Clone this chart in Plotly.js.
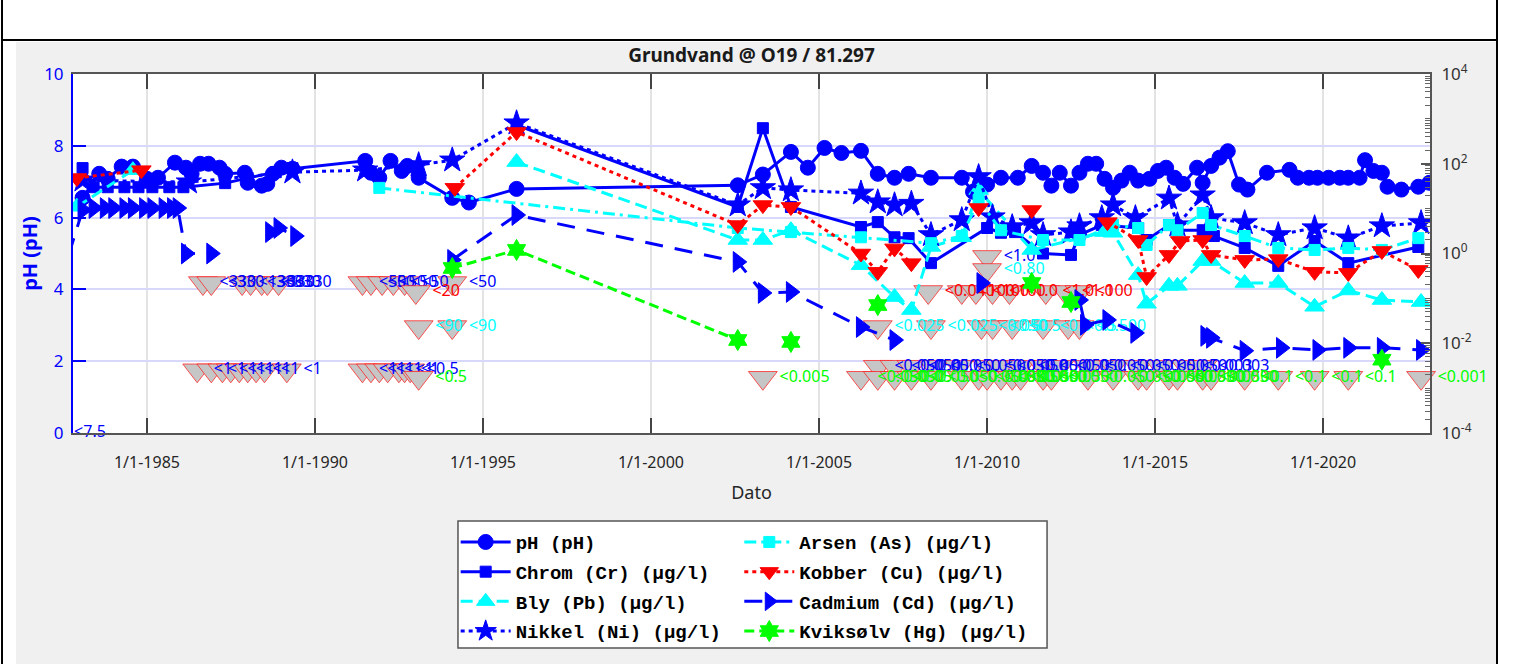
<!DOCTYPE html>
<html><head><meta charset="utf-8">
<script src="https://cdn.plot.ly/plotly-3.0.1.min.js"></script>
<style>
html,body{margin:0;padding:0;background:#fff;width:1516px;height:664px;overflow:hidden;}
#lb{position:absolute;left:1px;top:0;width:2px;height:664px;background:#000;}
#rb{position:absolute;left:1496px;top:0;width:2px;height:664px;background:#000;}
#tb{position:absolute;left:1px;top:39px;width:1497px;height:2px;background:#000;}
#chart{position:absolute;left:16px;top:42px;width:1480px;height:622px;}
</style></head><body>
<div id="lb"></div><div id="rb"></div><div id="tb"></div>
<div id="chart"></div>
<script>
// ---------------- data ----------------
const xTickVals = ['1985-01-01','1990-01-01','1995-01-01','2000-01-01','2005-01-01','2010-01-01','2015-01-01','2020-01-01'];
const xTickText = ['1/1-1985','1/1-1990','1/1-1995','1/1-2000','1/1-2005','1/1-2010','1/1-2015','1/1-2020'];

const phDates = ['1983-02','1983-08','1983-11','1984-04','1984-08','1985-01','1985-05','1985-11','1986-03','1986-05','1986-08','1986-11','1987-03','1987-05','1987-12','1988-01','1988-06','1988-08','1988-10','1989-01','1989-05','1991-07','1991-09','1991-12','1992-04','1992-08','1992-10','1993-02','1994-02','1994-08','1996-01','2002-08','2003-05','2004-03','2004-09','2005-03','2005-09','2006-04','2006-10','2007-04','2007-09','2008-05','2009-04','2009-08','2010-01','2010-06','2010-12','2011-05','2011-09','2011-12','2012-03','2012-07','2012-10','2013-01','2013-04','2013-07','2013-10','2014-01','2014-04','2014-07','2014-11','2015-02','2015-05','2015-08','2015-11','2016-04','2016-06','2016-09','2016-12','2017-03','2017-07','2017-10','2018-05','2019-01','2019-04','2019-08','2019-11','2020-03','2020-07','2020-10','2021-02','2021-04','2021-07','2021-10','2021-12','2022-05','2022-11','2023-03'];
const phValues = [6.55,7.22,7.08,7.42,7.42,7.08,7.11,7.53,7.39,7.22,7.5,7.5,7.39,7.22,7.25,6.97,6.89,6.94,7.22,7.39,7.36,7.58,7.25,7.11,7.58,7.3,7.44,7.11,6.55,6.42,6.8,6.9,7.2,7.83,7.39,7.94,7.8,7.86,7.22,7.11,7.22,7.11,7.11,6.72,6.92,7.11,7.11,7.44,7.25,6.89,7.25,6.89,7.25,7.5,7.5,7.08,6.83,7.03,7.25,7.03,7.08,7.3,7.39,7.11,6.94,7.39,6.97,7.44,7.67,7.85,6.92,6.78,7.25,7.33,7.11,7.11,7.11,7.11,7.11,7.11,7.11,7.6,7.3,7.25,6.86,6.78,6.86,6.97];

const crDates = ['1983-02','1983-06','1983-11','1984-05','1984-10','1985-03','1985-09','1986-02','1987-05','1988-01','1988-11','1989-05','1992-06','1996-01','2002-08','2003-05','2004-03','2006-04','2006-10','2007-04','2007-09','2008-05','2010-01','2010-06','2010-11','2011-09','2012-07','2012-10','2013-06','2014-07','2014-10','2015-06','2015-09','2016-06','2016-10','2017-09','2018-09','2019-10','2020-10','2022-11'];
const crValues = [80,30,30,30,30,30,30,30,37,48,65,80,null,730,10.9,620,10.9,3.9,5.0,2.3,2.2,0.61,3.7,2.9,3.0,1.0,0.93,2.6,4.3,3.7,2.0,4.3,3.3,3.3,2.45,1.33,0.53,1.9,0.61,1.4];

const pbDates = ['1982-12','1984-08','1990-01','1996-01','2002-08','2003-05','2004-03','2006-04','2007-04','2007-10','2008-05','2009-04','2009-10','2011-05','2013-07','2013-10','2014-07','2014-10','2015-06','2015-09','2016-06','2016-09','2017-09','2018-09','2019-10','2020-10','2021-10','2022-12'];
const pbValues = [11,72,null,109,2.0,2.0,3.3,0.55,0.107,0.055,1.4,2.3,26,1.2,3.0,2.9,0.33,0.076,0.19,0.19,0.68,0.68,0.22,0.22,0.065,0.15,0.092,0.083];

const niDates = ['1983-02','1986-04','1989-05','1991-07','1993-02','1994-02','1996-01','2002-08','2003-05','2004-03','2006-04','2006-10','2007-04','2007-10','2008-05','2009-04','2009-10','2010-03','2010-10','2011-05','2011-09','2012-07','2012-10','2013-06','2013-10','2014-06','2015-06','2015-09','2016-06','2016-09','2017-09','2018-09','2019-10','2020-10','2021-10','2022-12'];
const niValues = [43,39,65,72,94,120,806,12,29,26,22,14,12,13,2.6,5.6,51,6.5,3.9,4.8,2.6,3.0,4.1,6.2,12,6.2,17,4.3,20,6.2,4.8,2.6,3.7,2.2,4.1,4.8];

const asDates = ['1991-12','2002-08','2004-03','2006-04','2008-05','2009-04','2009-10','2010-06','2011-09','2012-10','2013-10','2014-07','2014-10','2015-06','2015-09','2016-06','2016-09','2017-09','2018-09','2019-10','2020-10','2021-10','2022-11'];
const asValues = [29,3.7,3.0,2.3,1.7,2.45,15.5,3.3,2.0,2.0,4.3,3.7,1.55,4.3,3.3,8.0,4.3,2.45,1.33,1.2,1.33,1.2,2.2];

const cuDates = ['1982-12','1984-11','1990-01','1994-03','1996-01','2002-08','2003-05','2004-03','2006-04','2006-10','2007-04','2007-10','2008-12','2009-10','2010-08','2011-05','2012-06','2013-08','2014-07','2014-10','2015-06','2015-10','2016-06','2016-09','2017-09','2018-09','2019-10','2020-10','2021-10','2022-11'];
const cuValues = [48,72,null,29,510,4.3,12,10.9,1.0,0.39,1.3,0.61,null,10.3,null,9.3,null,5.0,2.0,0.30,0.93,1.9,2.0,0.93,0.72,0.75,0.39,0.37,1.14,0.43];

const cdDates = ['1982-09','1983-02','1983-06','1983-10','1984-01','1984-05','1984-08','1984-12','1985-03','1985-07','1985-10','1985-12','1986-03','1986-12','1987-10','1988-09','1988-12','1989-06','1992-01','1994-02','1996-01','2002-08','2003-05','2004-03','2006-04','2007-04','2008-06','2009-11','2011-06','2012-10','2012-12','2013-08','2014-06','2015-08','2016-07','2016-09','2017-09','2018-10','2019-11','2020-10','2021-10','2022-12'];
const cdValues = [0.9,9.3,10.3,10.3,10.3,10.3,10.3,10.3,10.3,10.3,10.3,10.3,1.0,1.0,null,3.0,3.7,2.45,null,0.72,7.2,0.65,0.132,0.139,0.023,0.0118,null,0.22,null,0.092,0.0257,0.033,0.017,null,0.0146,0.0132,0.0068,0.0079,0.0071,0.0079,0.0079,0.0071];

const hgDates = ['1994-02','1996-01','2002-08','2003-06','2004-03','2005-06','2006-10','2009-01','2011-05','2011-12','2012-07','2017-01','2021-10'];
const hgValues = [0.475,1.2,0.0118,null,0.0107,null,0.071,null,0.22,null,0.083,null,0.0043];

// below-detection results (label = reported value), grouped by label colour
const bdlBlueDates = ['1986-09','1986-12','1987-11','1988-02','1988-06','1988-08','1988-12','1991-06','1991-09','1992-01','1992-05','1992-09','1994-02','1986-07','1986-12','1987-04','1987-07','1987-10','1988-01','1988-04','1988-07','1989-03','1991-06','1991-09','1991-12','1992-03','1992-07','1992-09','1992-11','2010-01','2006-10','2007-04','2007-10','2008-06','2009-03','2010-01','2010-06','2011-01','2011-09','2012-03','2013-01','2013-10','2014-07','2015-03','2015-12','2016-06'];
const bdlBlueValues = [0.22,0.22,0.22,0.22,0.22,0.22,0.22,0.22,0.22,0.22,0.22,0.22,0.22,0.0025,0.0025,0.0025,0.0025,0.0025,0.0025,0.0025,0.0025,0.0025,0.0025,0.0025,0.0025,0.0025,0.0025,0.0025,0.0025,0.84,0.003,0.003,0.003,0.003,0.003,0.003,0.003,0.003,0.003,0.003,0.003,0.003,0.003,0.003,0.003,0.003];
const bdlBlueLabels = ['<330','<330','<130','<330','<330','<330','<330','<50','<50','<50','<50','<50','<50','<1','<1','<1','<1','<1','<1','<1','<1','<1','<1','<1','<1','<1','<1','<1','<0.5','<1.0','<0.050','<0.050','<0.050','<0.050','<0.050','<0.050','<0.050','<0.050','<0.050','<0.050','<0.050','<0.050','<0.050','<0.050','<0.003','<0.003'];

const bdlCyanDates = ['1993-02','1994-02','2010-01','2006-10','2008-05','2009-11','2010-03','2010-10','2011-09','2012-06','2012-10'];
const bdlCyanValues = [0.023,0.023,0.43,0.023,0.023,0.023,0.023,0.023,0.023,0.023,0.023];
const bdlCyanLabels = ['<90','<90','<0.80','<0.025','<0.025','<0.050','<0.5','<0.5','<0.5','<0.5','<0.500'];

const bdlRedDates = ['1993-01','2008-04','2009-04','2009-09','2010-03','2010-09','2011-10','2012-05','2012-10'];
const bdlRedValues = [0.139,0.139,0.139,0.139,0.139,0.139,0.139,0.139,0.139];
const bdlRedLabels = ['<20','<0.040','<100','<100','<100','<1.0','<1.0','<1.0','<100'];

const bdlGreenDates = ['1993-02','2003-05','2006-04','2006-10','2007-04','2007-10','2008-05','2009-04','2009-10','2010-01','2010-06','2010-10','2011-01','2011-09','2011-12','2013-01','2013-10','2014-07','2014-10','2015-06','2015-09','2016-06','2016-09','2017-09','2018-09','2019-10','2020-10','2022-12'];
const bdlGreenValues = [0.0017,0.0017,0.0017,0.0017,0.0017,0.0017,0.0017,0.0017,0.0017,0.0017,0.0017,0.0017,0.0017,0.0017,0.0017,0.0017,0.0017,0.0017,0.0017,0.0017,0.0017,0.0017,0.0017,0.0017,0.0017,0.0017,0.0017,0.0017];
const bdlGreenLabels = ['<0.5','<0.005','<0.050','<0.050','<0.05','<0.050','<0.050','<0.050','<0.050','<0.050','<0.050','<0.050','<0.050','<0.050','<0.050','<0.050','<0.050','<0.050','<0.050','<0.050','<0.050','<0.050','<0.050','<0.1','<0.1','<0.1','<0.1','<0.001'];

const phBdlDates = ['1982-11'];
const phBdlValues = [0];
const phBdlLabels = ['<7.5'];

// ---------------- traces ----------------
const BLUE = '#0000ff', CYAN = '#00ffff', RED = '#ff0000', GREEN = '#00ff00';
const LABEL_FONT = 'Noto Sans';

function bdl(x, y, t, c) {
  return {type:'scatter', mode:'markers+text', x:x, y:y, text:t, yaxis:'y2',
    textposition:'middle right', textfont:{family:LABEL_FONT, size:16, color:c},
    marker:{symbol:'triangle-down', size:25, color:'#c6c6c6', line:{color:'rgba(255,30,30,0.75)', width:1}},
    showlegend:false, hoverinfo:'skip', cliponaxis:false};
}
function series(name, x, y, axis, color, dash, symbol, size, legend, group) {
  return {type:'scatter', mode:'lines+markers', name:name, x:x, y:y, yaxis:axis,
    connectgaps:false, legend:legend, legendgroup:group,
    line:{color:color, width:3, dash:dash},
    marker:{symbol:symbol, size:size, color:color, line:{color:color, width:1}}};
}

const traces = [
  bdl(bdlBlueDates, bdlBlueValues, bdlBlueLabels, BLUE),
  bdl(bdlCyanDates, bdlCyanValues, bdlCyanLabels, CYAN),
  bdl(bdlRedDates, bdlRedValues, bdlRedLabels, RED),
  bdl(bdlGreenDates, bdlGreenValues, bdlGreenLabels, GREEN),
  {type:'scatter', mode:'text', x:phBdlDates, y:phBdlValues, text:phBdlLabels, textposition:'middle right',
   textfont:{family:LABEL_FONT, size:16, color:BLUE}, showlegend:false, cliponaxis:false, hoverinfo:'skip'},
  series('pH (pH)', phDates, phValues, 'y', BLUE, 'solid', 'circle', 15, 'legend', 'g1'),
  series('Chrom (Cr) (µg/l)', crDates, crValues, 'y2', BLUE, 'solid', 'square', 11, 'legend', 'g2'),
  series('Bly (Pb) (µg/l)', pbDates, pbValues, 'y2', CYAN, '12px,6px', 'triangle-up', 17, 'legend', 'g3'),
  series('Nikkel (Ni) (µg/l)', niDates, niValues, 'y2', BLUE, '4px,4px', 'star', 19, 'legend', 'g4'),
  series('Arsen (As) (µg/l)', asDates, asValues, 'y2', CYAN, '12px,5px,3px,5px', 'square', 11, 'legend2', 'h1'),
  series('Kobber (Cu) (µg/l)', cuDates, cuValues, 'y2', RED, '4px,4px', 'triangle-down', 17, 'legend2', 'h2'),
  series('Cadmium (Cd) (µg/l)', cdDates, cdValues, 'y2', BLUE, '18px,12px', 'triangle-right', 18, 'legend2', 'h3'),
  series('Kviksølv (Hg) (µg/l)', hgDates, hgValues, 'y2', GREEN, '10px,5px', 'hexagram', 16, 'legend2', 'h4')
];

const minorVals = [];
for (let e = -4; e < 4; e++) for (let m = 1; m <= 9; m++) {
  if (m === 1 && e % 2 === 0) continue;
  minorVals.push(m * Math.pow(10, e));
}

const legendFont = {family:'Liberation Mono, Courier New, monospace', size:19, color:'#000', weight:'bold'};
const layout = {
  width:1480, height:622,
  margin:{l:57, r:66, t:32, b:231, pad:0},
  paper_bgcolor:'#f0f0f0', plot_bgcolor:'#ffffff',
  font:{family:'Noto Sans, sans-serif', color:'#262626'},
  title:{text:'Grundvand @ O19 / 81.297', font:{size:19, weight:'bold', color:'#1a1a1a'},
         x:0.5, xref:'paper', xanchor:'center', y:1 - 13/622, yref:'container', yanchor:'middle'},
  xaxis:{type:'date', range:['1982-10-20','2023-03-08'], tickmode:'array', tickvals:xTickVals, ticktext:xTickText,
    ticks:'inside', ticklen:15, tickwidth:1.5, tickcolor:'#444', showline:true, mirror:'ticks',
    linecolor:'#555', linewidth:2, showgrid:true, gridcolor:'#e3e3e3', gridwidth:2, zeroline:false,
    tickfont:{size:16, color:'#262626'}, ticklabelstandoff:14,
    title:{text:'Dato', font:{size:18, color:'#262626'}, standoff:14}},
  yaxis:{range:[0,10], tickmode:'linear', tick0:0, dtick:2, ticks:'inside', ticklen:13, tickwidth:2,
    tickcolor:BLUE, showline:true, linecolor:BLUE, linewidth:2, showgrid:true, gridcolor:'#d8d8fb', gridwidth:2,
    zeroline:false, tickfont:{size:17, color:BLUE}, ticklabelstandoff:4,
    title:{text:'pH (pH)', font:{size:20, color:BLUE, weight:'bold'}, standoff:9}},
  yaxis2:{type:'log', range:[-4,4], overlaying:'y', side:'right', tickmode:'array',
    tickvals:[1e-4,1e-2,1,100,1e4],
    ticktext:['10<sup>-4</sup>','10<sup>-2</sup>','10<sup>0</sup>','10<sup>2</sup>','10<sup>4</sup>'],
    ticks:'inside', ticklen:9, tickwidth:2, tickcolor:'#555', showline:true, linecolor:'#555', linewidth:2,
    showgrid:false, zeroline:false, tickfont:{size:17, color:'#333'}, ticklabelstandoff:6,
    minor:{tickmode:'array', tickvals:minorVals, ticks:'inside', ticklen:5, tickwidth:1, tickcolor:'#666', showgrid:false}},
  showlegend:true,
  legend:{x:0.282, xanchor:'left', y:-0.251, yanchor:'top', orientation:'v', bgcolor:'rgba(0,0,0,0)',
    borderwidth:0, font:legendFont, traceorder:'grouped', tracegroupgap:2, itemwidth:50},
  legend2:{x:0.491, xanchor:'left', y:-0.251, yanchor:'top', orientation:'v', bgcolor:'rgba(0,0,0,0)',
    borderwidth:0, font:legendFont, traceorder:'grouped', tracegroupgap:2, itemwidth:50},
  shapes:[{type:'rect', xref:'paper', yref:'paper', x0:0.2837, x1:0.7178, y0:-0.2451, y1:-0.5989,
    fillcolor:'#ffffff', line:{color:'#555', width:1.5}, layer:'below'}]
};

Plotly.newPlot('chart', traces, layout, {staticPlot:true, displayModeBar:false});
</script></body></html>
